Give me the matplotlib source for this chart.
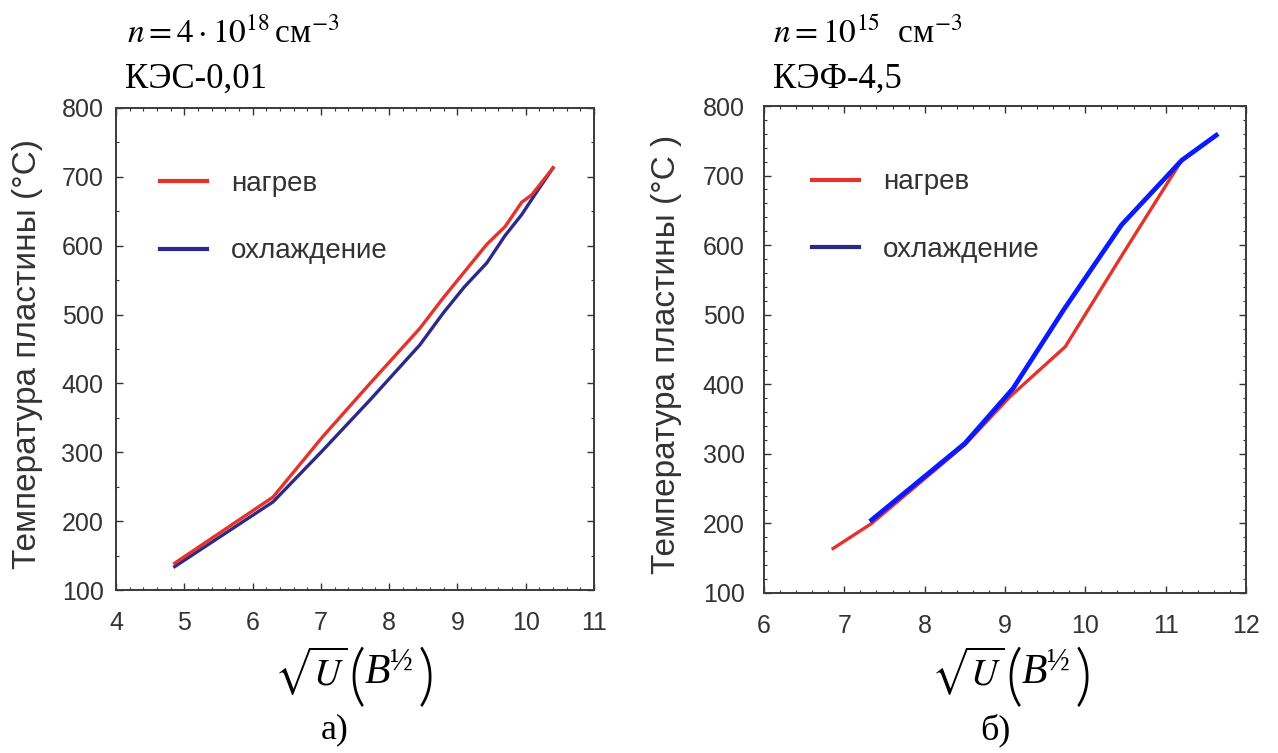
import matplotlib
matplotlib.use('Agg')
import matplotlib.pyplot as plt
from matplotlib.lines import Line2D
from matplotlib.ticker import MultipleLocator

plt.rcParams['font.family'] = ['Liberation Sans', 'DejaVu Sans']
plt.rcParams['mathtext.fontset'] = 'stix'

# а) КЭС-0,01
a_heat_x = [4.86, 6.30, 7.03, 7.72, 8.45, 8.79, 9.43, 9.70, 9.94, 10.09, 10.40]
a_heat_y = [139, 235, 323, 400, 480, 524, 602, 628, 663, 674, 713]
a_cool_x = [4.86, 6.30, 7.03, 7.72, 8.45, 8.79, 9.10, 9.43, 9.70, 9.94, 10.16, 10.40]
a_cool_y = [134, 228, 303, 376, 456, 502, 540, 575, 615, 645, 678, 713]

# б) КЭФ-4,5
b_heat_x = [6.86, 7.34, 8.50, 9.06, 9.75, 10.47, 11.20, 11.63]
b_heat_y = [164, 200, 313, 382, 454, 588, 722, 758]
b_cool_x = [7.34, 8.50, 9.10, 9.73, 10.45, 11.20, 11.63]
b_cool_y = [205, 315, 394, 507, 629, 722, 758]

labels = ['нагрев', 'охлаждение']
red = '#e5322a'
navy = '#2b2a8c'
blue = '#0a1aff'
serif = ['Liberation Serif', 'DejaVu Serif']

W, H = 1278, 753
fig = plt.figure(figsize=(12.78, 7.53), dpi=100)
axA = fig.add_axes([116/W, 1-590/H, 478/W, 482/H])
axB = fig.add_axes([764/W, 1-593/H, 482/W, 487/H])


def style(ax, xlim, xminor, yminor, ypad):
    ax.set_xlim(*xlim)
    ax.set_ylim(100, 800)
    ax.xaxis.set_major_locator(MultipleLocator(1))
    ax.xaxis.set_minor_locator(MultipleLocator(xminor))
    ax.yaxis.set_major_locator(MultipleLocator(100))
    ax.yaxis.set_minor_locator(MultipleLocator(yminor))
    ax.tick_params(which='both', direction='in', top=True, right=True,
                   colors='#333333', labelsize=18)
    ax.tick_params(which='major', length=5, width=1)
    ax.tick_params(which='minor', length=2.5, width=0.8)
    ax.tick_params(axis='x', pad=15)
    ax.tick_params(axis='y', pad=ypad)
    for s in ax.spines.values():
        s.set_color('#3a3a3a')
        s.set_linewidth(1.4)


axA.plot(a_cool_x, a_cool_y, color=navy, lw=2.4)
axA.plot(a_heat_x, a_heat_y, color=red, lw=2.4)
style(axA, (4, 11), 0.2, 50, 9)

axB.plot(b_heat_x, b_heat_y, color=red, lw=2.4)
axB.plot(b_cool_x, b_cool_y, color=blue, lw=3.4)
style(axB, (6, 12), 0.2, 20, 14)

handles = [Line2D([], [], color=red, lw=3), Line2D([], [], color=navy, lw=3)]
for ax, x0 in [(axA, 0.092), (axB, 0.10)]:
    ax.legend(handles, labels, loc='upper left', bbox_to_anchor=(x0, 0.87),
              frameon=False, fontsize=20, handlelength=1.7, handletextpad=0.85,
              labelspacing=1.5, borderpad=0, borderaxespad=0,
              labelcolor='#333333')

fig.text(28/W, 1-354/H, 'Температура пластины (°C)', rotation=90,
         ha='center', va='center', fontsize=24, color='#333333')
fig.text(667/W, 1-354/H, 'Температура пластины (°C )', rotation=90,
         ha='center', va='center', fontsize=24, color='#333333')

fig.text(127/W, 1-43/H, r'$n = 4\cdot10^{18}\,$см$^{-3}$',
         fontsize=24, family=serif, va='baseline')
fig.text(125/W, 1-88/H, 'КЭС-0,01', fontsize=25, family=serif, va='baseline')
fig.text(773/W, 1-43/H, r'$n = 10^{15}$  см$^{-3}$',
         fontsize=24, family=serif, va='baseline')
fig.text(773/W, 1-88/H, 'КЭФ-4,5', fontsize=25, family=serif, va='baseline')

paren_font = ['Lato', 'Roboto', 'DejaVu Sans']


def xlabel(dx):
    # pieces of sqrt(U) (B^1/2), placed in pixel coordinates of the left panel
    fig.text((311+dx)/W, 1-671/H, r'$\sqrt{U}$', fontsize=27, ha='center', va='center')
    fig.text((357+dx)/W, 1-680/H, '(', fontsize=48, family=paren_font,
             weight=300, ha='center', va='center')
    fig.text((377+dx)/W, 1-673/H, 'B', fontsize=30, family=serif, style='italic',
             ha='center', va='center')
    fig.text((400+dx)/W, 1-662/H, '½', fontsize=22, family=serif, ha='center', va='center')
    fig.text((426+dx)/W, 1-680/H, ')', fontsize=48, family=paren_font,
             weight=300, ha='center', va='center')


xlabel(0)
xlabel(657)
fig.text(335/W, 1-730/H, 'а)', fontsize=26, family=serif, ha='center', va='center')
fig.text(995/W, 1-730/H, 'б)', fontsize=26, family=serif, ha='center', va='center')

fig.savefig('out.png', dpi=100)
